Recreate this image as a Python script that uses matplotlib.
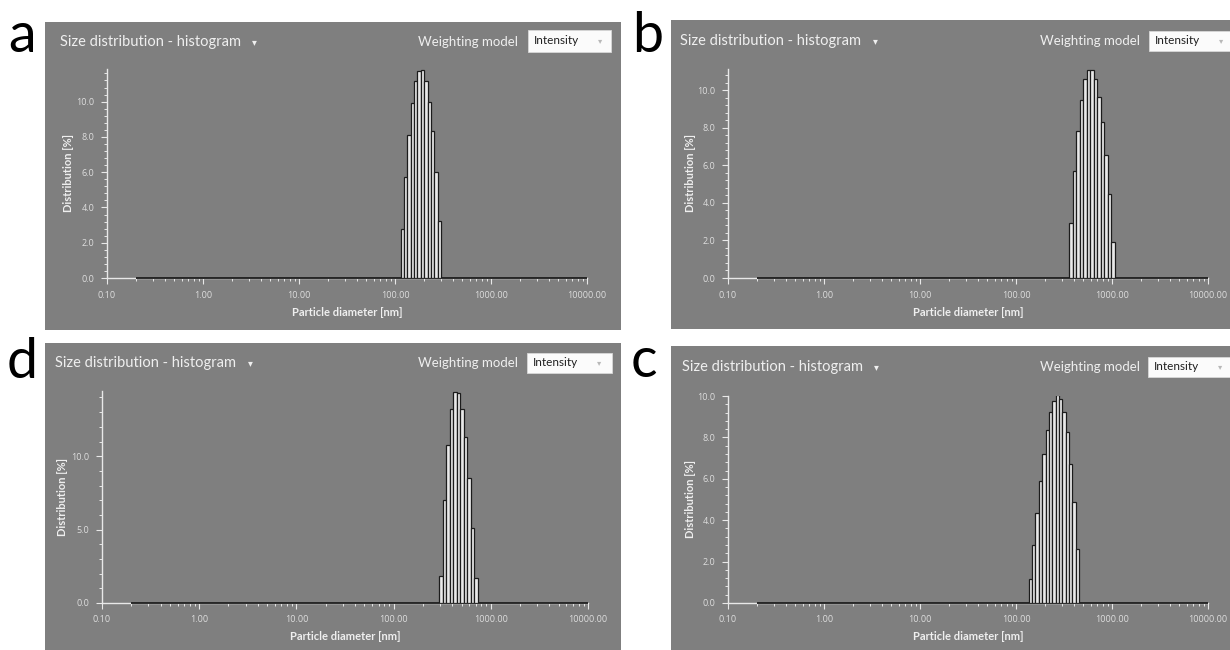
import matplotlib
matplotlib.use('Agg')
import matplotlib.pyplot as plt
import matplotlib.ticker as mticker
from matplotlib.patches import Rectangle

plt.rcParams['font.family'] = ['Lato', 'DejaVu Sans']

W, H = 1230, 650

# bin edges [nm] and distribution [%]
edges_a = [114.6, 124.2, 134.6, 145.9, 158.2, 171.5, 185.9, 201.5, 218.4, 236.7, 256.6, 278.1, 301.5]
dist_a = [2.78, 5.72, 8.13, 9.92, 11.16, 11.76, 11.82, 11.16, 9.96, 8.35, 6.00, 3.26]

edges_b = [359, 390, 424, 461, 502, 546, 593, 645, 702, 763, 830, 902, 981, 1067]
dist_b = [2.93, 5.68, 7.82, 9.47, 10.57, 11.05, 11.08, 10.60, 9.65, 8.31, 6.56, 4.45, 1.90]

edges_d = [295, 320, 348, 378, 411, 446, 485, 527, 572, 622, 675, 734]
dist_d = [1.81, 7.01, 10.75, 13.19, 14.37, 14.30, 13.22, 11.31, 8.53, 5.09, 1.70]

edges_c = [135.5, 146.9, 159.3, 172.7, 187.2, 203.0, 220.1, 238.6, 258.7, 280.5,
           304.1, 329.7, 357.5, 387.6, 420.2, 455.6]
dist_c = [1.17, 2.80, 4.37, 5.87, 7.22, 8.38, 9.24, 9.75, 10.03, 9.86, 9.22, 8.25, 6.70, 4.88, 2.60]

x_ticks = [0.1, 1, 10, 100, 1000, 10000]
x_tick_labels = ['0.10', '1.00', '10.00', '100.00', '1000.00', '10000.00']
size_range = [0.2, 10000.0]   # zero-height bins, shown as the dark baseline

title = 'Size distribution - histogram'
weighting = 'Weighting model'
model = 'Intensity'
xlabel = 'Particle diameter [nm]'
ylabel = 'Distribution [%]'

GRAY = '#7f7f7f'
LIGHT = '#efefef'
TICKC = '#dedede'
TICKFONT = ['Open Sans', 'DejaVu Sans']

def fx(px):
    return px / W

def fy(py):
    return 1 - py / H

# layout in pixels: letter, grey box, axes box, ymax, y ticks, text positions
panels = [
    dict(letter='a', lpos=(22, 52), box=(45, 22, 621, 330), ax=(107, 69, 587, 278),
         ymax=11.85, major=2, minor=0.4, edges=edges_a, dist=dist_a,
         title=(60, 42), arrow=254, wm=518, ibox=(528, 30, 611, 52), ylab=69, xlab=313),
    dict(letter='b', lpos=(648, 52), box=(671, 20, 1240, 329), ax=(728, 69, 1208, 278),
         ymax=11.12, major=2, minor=0.4, edges=edges_b, dist=dist_b,
         title=(680, 41), arrow=875, wm=1140, ibox=(1149, 31, 1240, 51), ylab=690, xlab=313),
    dict(letter='d', lpos=(22, 378), box=(45, 343, 621, 660), ax=(102, 391, 588, 603),
         ymax=14.44, major=5, minor=1, edges=edges_d, dist=dist_d,
         title=(55, 363), arrow=250, wm=518, ibox=(527, 353, 612, 373), ylab=62, xlab=637),
    dict(letter='c', lpos=(644, 377), box=(671, 346, 1240, 660), ax=(728, 396, 1208, 603),
         ymax=10.0, major=2, minor=0.4, edges=edges_c, dist=dist_c,
         title=(682, 367), arrow=876, wm=1140, ibox=(1148, 357, 1240, 377), ylab=691, xlab=637),
]

fig = plt.figure(figsize=(W / 100, H / 100), dpi=100)
fig.patch.set_facecolor('white')

for p in panels:
    x0, y0, x1, y1 = p['box']
    fig.add_artist(Rectangle((fx(x0), fy(y1)), (x1 - x0) / W, (y1 - y0) / H,
                             transform=fig.transFigure, facecolor=GRAY,
                             edgecolor='none', zorder=0))
    fig.text(fx(p['lpos'][0]), fy(p['lpos'][1]), p['letter'], fontsize=40,
             ha='center', va='baseline', color='black')

    # header line
    fig.text(fx(p['title'][0]), fy(p['title'][1]), title, fontsize=10.5,
             color=LIGHT, ha='left', va='center')
    fig.text(fx(p['arrow']), fy(p['title'][1]), '\u25be', fontsize=7,
             color=LIGHT, ha='center', va='center', family=['DejaVu Sans'])
    fig.text(fx(p['wm']), fy(p['title'][1]), weighting, fontsize=9.5,
             color=LIGHT, ha='right', va='center')
    bx0, by0, bx1, by1 = p['ibox']
    fig.add_artist(Rectangle((fx(bx0), fy(by1)), (bx1 - bx0) / W, (by1 - by0) / H,
                             transform=fig.transFigure, facecolor='#fbfbfb',
                             edgecolor='#d8d8d8', lw=0.6, zorder=1))
    fig.text(fx(bx0 + 6), fy((by0 + by1) / 2), model, fontsize=8.5,
             color='#202020', ha='left', va='center', zorder=2)
    fig.text(fx(bx0 + 72), fy((by0 + by1) / 2), '\u25be', fontsize=6,
             color='#b8b8b8', ha='center', va='center', zorder=2)

    # histogram axes
    ax0, ay0, ax1, ay1 = p['ax']
    ax = fig.add_axes([fx(ax0), fy(ay1), (ax1 - ax0) / W, (ay1 - ay0) / H])
    ax.set_facecolor('none')
    ax.set_xscale('log')
    ax.set_xlim(0.1, 10000)
    ax.set_ylim(0, p['ymax'])

    edges = p['edges']
    widths = [r - l for l, r in zip(edges[:-1], edges[1:])]
    ax.hlines(0, size_range[0], size_range[1], color='#1c1c1c', lw=1.3,
              zorder=3, clip_on=False)
    ax.bar(edges[:-1], p['dist'], width=widths, align='edge',
           facecolor='#e9e9e9', edgecolor='#1c1c1c', linewidth=0.9, zorder=4)

    for s in ['top', 'right']:
        ax.spines[s].set_visible(False)
    for s in ['left', 'bottom']:
        ax.spines[s].set_color('#e8e8e8')
        ax.spines[s].set_linewidth(1.0)

    ax.set_xticks(x_ticks)
    ax.set_xticklabels(x_tick_labels)
    ax.xaxis.set_minor_locator(mticker.LogLocator(base=10, subs=range(2, 10)))
    ax.xaxis.set_minor_formatter(mticker.NullFormatter())
    ax.yaxis.set_major_locator(mticker.MultipleLocator(p['major']))
    ax.yaxis.set_minor_locator(mticker.MultipleLocator(p['minor']))
    ax.yaxis.set_major_formatter(mticker.FormatStrFormatter('%.1f'))

    ax.tick_params(which='major', length=4, width=0.8, color='#e8e8e8',
                   labelcolor=TICKC, labelsize=6.5, pad=5)
    ax.tick_params(which='minor', length=2.5, width=0.7, color='#e8e8e8')
    for lab in ax.get_xticklabels() + ax.get_yticklabels():
        lab.set_family(TICKFONT)

    ax.set_xlabel(xlabel, fontsize=8, fontweight='bold', color=LIGHT)
    ax.xaxis.set_label_coords(0.5, -(p['xlab'] - ay1) / (ay1 - ay0))
    ax.set_ylabel(ylabel, fontsize=8, fontweight='bold', color=LIGHT)
    ax.yaxis.set_label_coords(-(ax0 - p['ylab']) / (ax1 - ax0), 0.5)
    ax.xaxis.label.set_va('center')
    ax.yaxis.label.set_va('center')

fig.savefig('out.png', dpi=100, facecolor='white')
